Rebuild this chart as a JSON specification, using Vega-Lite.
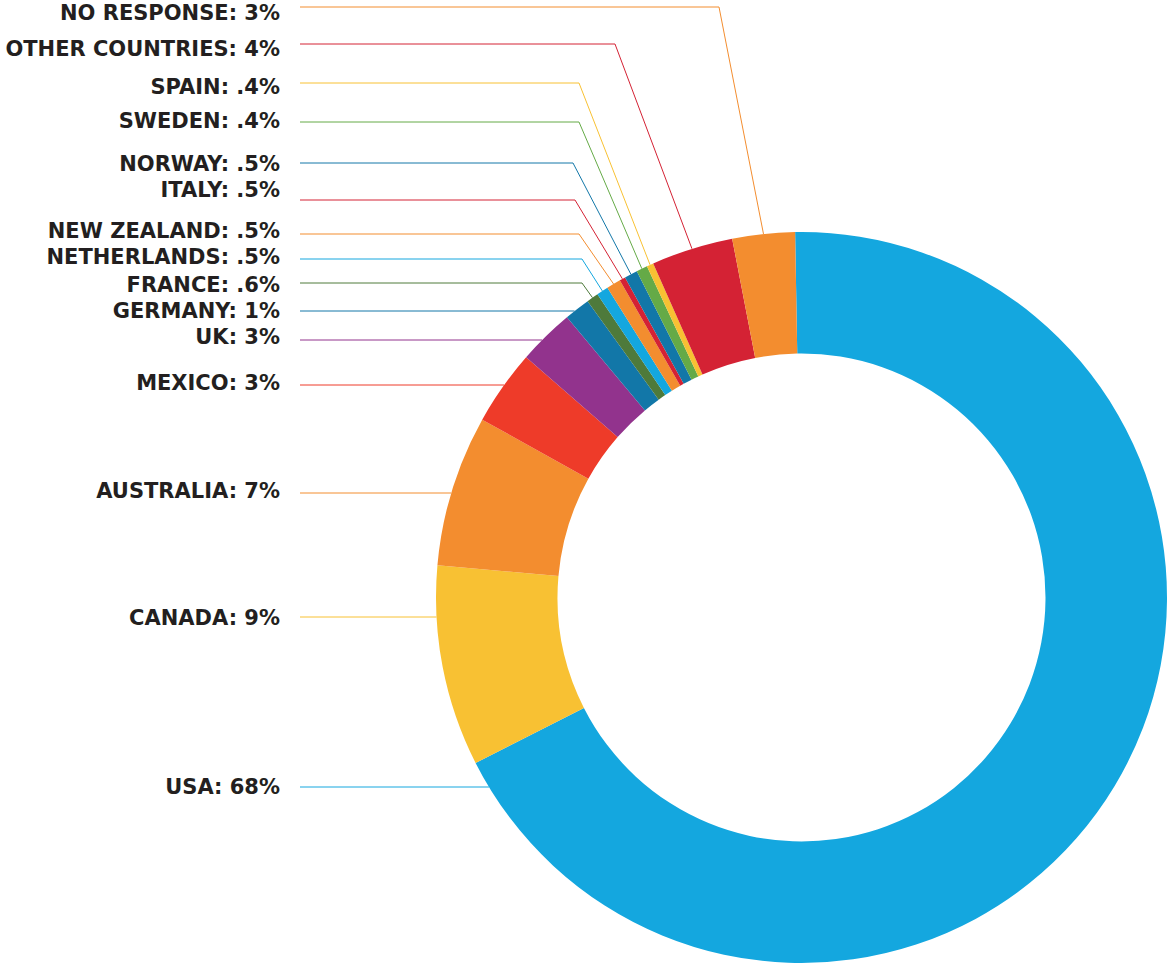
{
  "$schema": "https://vega.github.io/schema/vega-lite/v6.json",
  "width": 733,
  "height": 733,
  "autosize": "none",
  "padding": {"left": 435, "top": 231, "right": 0, "bottom": 0},
  "background": "white",
  "config": {"view": {"stroke": null}},
  "data": {
    "values": [
      {"i": 0, "country": "USA", "label": "USA: 68%", "share": 67.79},
      {"i": 1, "country": "Canada", "label": "CANADA: 9%", "share": 8.88},
      {"i": 2, "country": "Australia", "label": "AUSTRALIA: 7%", "share": 6.68},
      {"i": 3, "country": "Mexico", "label": "MEXICO: 3%", "share": 3.33},
      {"i": 4, "country": "UK", "label": "UK: 3%", "share": 2.49},
      {"i": 5, "country": "Germany", "label": "GERMANY: 1%", "share": 1.14},
      {"i": 6, "country": "France", "label": "FRANCE: .6%", "share": 0.52},
      {"i": 7, "country": "Netherlands", "label": "NETHERLANDS: .5%", "share": 0.52},
      {"i": 8, "country": "New Zealand", "label": "NEW ZEALAND: .5%", "share": 0.63},
      {"i": 9, "country": "Italy", "label": "ITALY: .5%", "share": 0.26},
      {"i": 10, "country": "Norway", "label": "NORWAY: .5%", "share": 0.58},
      {"i": 11, "country": "Sweden", "label": "SWEDEN: .4%", "share": 0.49},
      {"i": 12, "country": "Spain", "label": "SPAIN: .4%", "share": 0.30},
      {"i": 13, "country": "Other countries", "label": "OTHER COUNTRIES: 4%", "share": 3.61},
      {"i": 14, "country": "No response", "label": "NO RESPONSE: 3%", "share": 2.76}
    ]
  },
  "transform": [
    {"joinaggregate": [{"op": "sum", "field": "share", "as": "total"}]},
    {"window": [{"op": "sum", "field": "share", "as": "cum"}], "sort": [{"field": "i"}], "frame": [null, 0]},
    {"calculate": "(-1 + 360 * (datum.cum - datum.share / 2) / datum.total) * PI / 180", "as": "mid"},
    {"calculate": "[788, 619, 492, 384, 338, 312, 286, 258, 232, 191, 165, 122, 88, 50, 14][datum.i]", "as": "ty"},
    {"calculate": "[787, 617, 493, 385, 340, 311, 283, 259, 234, 200, 163, 122, 83, 44, 7][datum.i]", "as": "ly"},
    {"calculate": "datum.i < 6 ? 801.5 - sqrt(365.5 * 365.5 - pow(datum.ly - 597.5, 2)) : 801.5 + 365.5 * sin(datum.mid)", "as": "ex"},
    {"calculate": "datum.i < 6 ? datum.ly : 597.5 - 365.5 * cos(datum.mid)", "as": "ey"},
    {"calculate": "datum.i < 6 ? datum.ex : [0, 0, 0, 0, 0, 0, 582, 582, 579, 575, 573, 579, 579, 615, 719][datum.i]", "as": "bx"},
    {"calculate": "300", "as": "sx"},
    {"calculate": "280", "as": "tx"}
  ],
  "layer": [
    {
      "mark": {"type": "arc", "innerRadius": 244, "outerRadius": 365.5},
      "encoding": {
        "theta": {"field": "share", "type": "quantitative", "stack": true, "scale": {"range": [-0.017453, 6.265732]}},
        "order": {"field": "i", "type": "quantitative"},
        "color": {
          "field": "country", "type": "nominal", "legend": null,
          "scale": {
            "domain": ["USA", "Canada", "Australia", "Mexico", "UK", "Germany", "France", "Netherlands", "New Zealand", "Italy", "Norway", "Sweden", "Spain", "Other countries", "No response"],
            "range": ["#14A7DF", "#F8C133", "#F38D2F", "#EE3B29", "#92338D", "#1277A8", "#4E7A3B", "#14A7DF", "#F38D2F", "#D42234", "#1277A8", "#65AA47", "#F8C133", "#D42234", "#F38D2F"]
          }
        }
      }
    },
    {
      "mark": {"type": "rule", "strokeWidth": 1},
      "encoding": {
        "x": {"field": "sx", "type": "quantitative", "scale": {"domain": [435, 1168], "nice": false, "zero": false}, "axis": null},
        "x2": {"field": "bx"},
        "y": {"field": "ly", "type": "quantitative", "scale": {"domain": [231, 964], "nice": false, "zero": false, "reverse": true}, "axis": null},
        "color": {"field": "country", "type": "nominal", "legend": null}
      }
    },
    {
      "mark": {"type": "rule", "strokeWidth": 1},
      "encoding": {
        "x": {"field": "bx", "type": "quantitative", "scale": {"domain": [435, 1168], "nice": false, "zero": false}, "axis": null},
        "x2": {"field": "ex"},
        "y": {"field": "ly", "type": "quantitative", "scale": {"domain": [231, 964], "nice": false, "zero": false, "reverse": true}, "axis": null},
        "y2": {"field": "ey"},
        "color": {"field": "country", "type": "nominal", "legend": null}
      }
    },
    {
      "mark": {"type": "text", "align": "right", "baseline": "middle", "font": "DejaVu Sans", "fontWeight": "bold", "fontSize": 21, "color": "#231F20"},
      "encoding": {
        "x": {"field": "tx", "type": "quantitative", "scale": {"domain": [435, 1168], "nice": false, "zero": false}, "axis": null},
        "y": {"field": "ty", "type": "quantitative", "scale": {"domain": [231, 964], "nice": false, "zero": false, "reverse": true}, "axis": null},
        "text": {"field": "label"}
      }
    }
  ]
}
